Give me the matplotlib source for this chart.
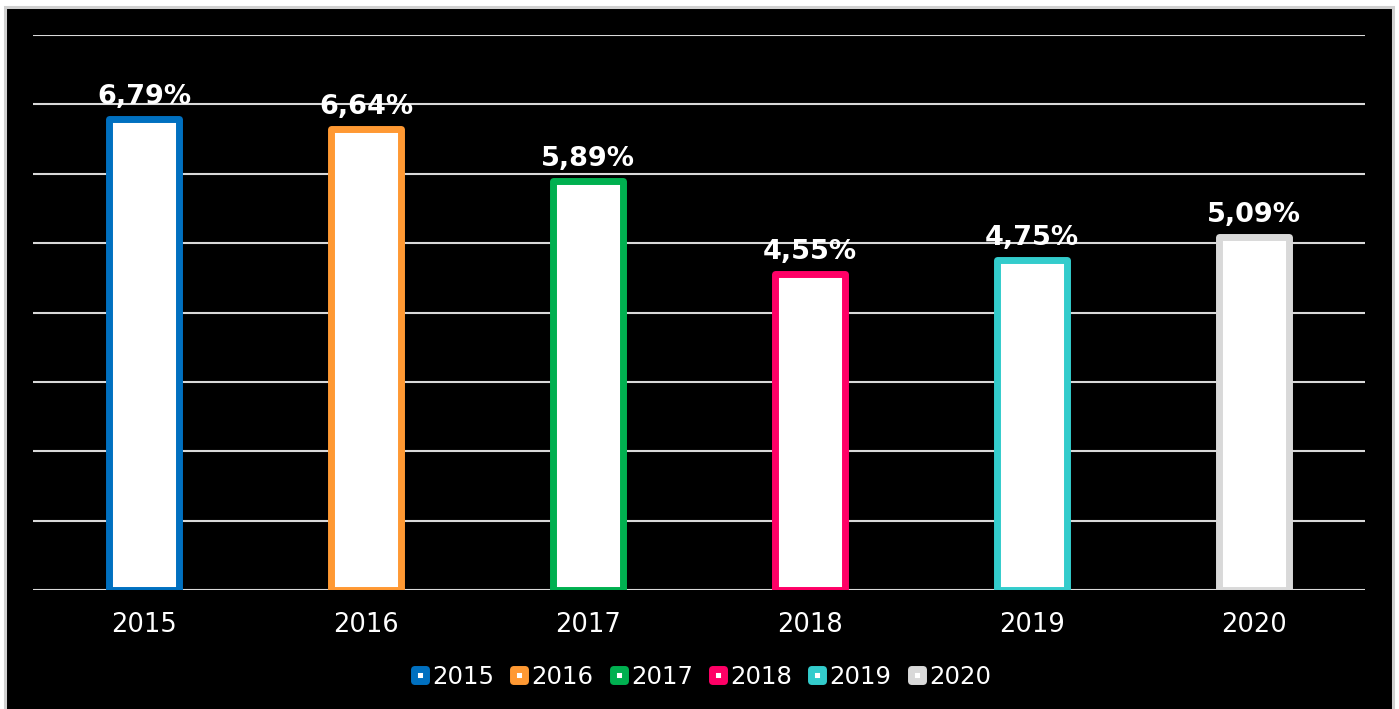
import matplotlib
matplotlib.use("Agg")
import matplotlib.pyplot as plt
from matplotlib.lines import Line2D
from matplotlib.markers import MarkerStyle
from matplotlib.patches import Rectangle

categories = ["2015", "2016", "2017", "2018", "2019", "2020"]
values = [6.79, 6.64, 5.89, 4.55, 4.75, 5.09]
labels = ["6,79%", "6,64%", "5,89%", "4,55%", "4,75%", "5,09%"]
colors = ["#0070C0", "#FF9933", "#00B050", "#FF0066", "#33CCCC", "#D9D9D9"]

plt.rcParams['font.family'] = ['DejaVu Sans']

W, H = 1399, 709
fig = plt.figure(figsize=(W / 100, H / 100), dpi=100, facecolor="white")
# black panel with light grey border
fig.patches.append(Rectangle((4.5 / W, -0.02), (1393 - 4.5) / W, 1 - 7 / H + 0.02,
                             transform=fig.transFigure, facecolor="black",
                             edgecolor="#D0D0D0", linewidth=2.2, zorder=-5))

ax = fig.add_axes([33 / W, 1 - 590 / H, (1365 - 33) / W, (590 - 35) / H])
ax.set_facecolor("none")
x = list(range(len(categories)))
ax.set_xlim(-0.5, 5.5)
ax.set_ylim(0, 8)
ax.set_yticks(range(0, 9))
ax.yaxis.grid(True, color="#D9D9D9", linewidth=1.5)
ax.set_axisbelow(True)
for s in ax.spines.values():
    s.set_visible(False)
ax.tick_params(axis="y", length=0, labelleft=False)
ax.tick_params(axis="x", length=0, colors="white", labelsize=18.5, pad=16)
ax.set_xticks(x)
ax.set_xticklabels(categories)

bars = ax.bar(x, values, width=0.315, color="white", edgecolor=colors,
              linewidth=5, zorder=3)
for b in bars:
    b.set_joinstyle("round")
for xi, v, lab in zip(x, values, labels):
    ax.annotate(lab, (xi, v), xytext=(0, 6.5), textcoords="offset points",
                ha="center", va="bottom", color="white", fontsize=19.5,
                fontweight="bold", zorder=4)

handles = [Line2D([], [], linestyle="none",
                  marker=MarkerStyle("s", joinstyle="round"),
                  markersize=8, markerfacecolor="white",
                  markeredgecolor=c, markeredgewidth=5)
           for c in colors]
leg = fig.legend(handles, categories, loc="center",
                 bbox_to_anchor=(701 / W, 1 - 677 / H), ncol=6, frameon=False,
                 fontsize=17.6, handlelength=0.7, handletextpad=0.15,
                 columnspacing=0.68, labelcolor="white")

fig.savefig("out.png", dpi=100, facecolor="white")
